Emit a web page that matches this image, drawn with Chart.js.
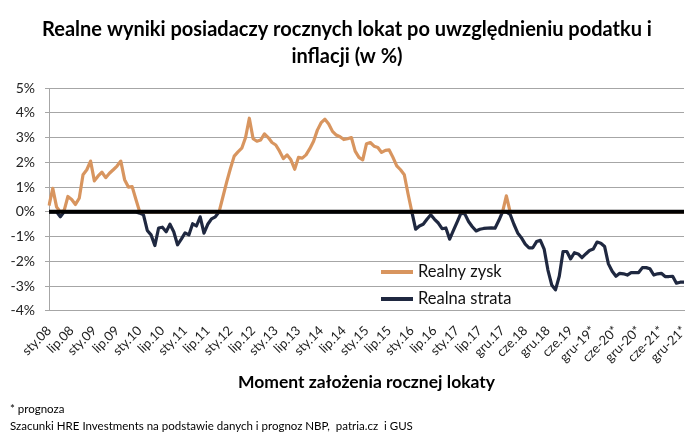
<!DOCTYPE html>
<html><head><meta charset="utf-8">
<script src="https://cdn.jsdelivr.net/npm/chart.js@4.4.0/dist/chart.umd.min.js"></script>
<style>html,body{margin:0;padding:0;background:#fff;}#wrap{width:700px;height:439px;position:relative;}</style>
</head><body><div id="wrap"><canvas id="c" width="700" height="439"></canvas></div>
<script>
const tickLabels = ['sty.08','lip.08','sty.09','lip.09','sty.10','lip.10','sty.11','lip.11','sty.12','lip.12','sty.13','lip.13','sty.14','lip.14','sty.15','lip.15','sty.16','lip.16','sty.17','lip.17','gru.17','cze.18','gru.18','cze.19','gru-19*','cze-20*','gru-20*','cze-21*','gru-21*'];
const seriesNames = ['Realny zysk', 'Realna strata'];
const zysk = [
 0.25,0.95,0.2,0,0.05,0.62,0.5,0.3,0.55,1.5,
 1.7,2.05,1.25,1.45,1.6,1.38,1.56,1.7,1.85,2.05,
 1.3,1.0,1.02,0.5,0,0,0,0,0,0,
 0,0,0,0,0,0,0,0,0,0,
 0,0,0,0,0,0,0.6,1.2,1.75,2.25,
 2.42,2.57,3.0,3.78,2.95,2.85,2.9,3.15,3.0,2.8,
 2.7,2.45,2.15,2.3,2.1,1.72,2.2,2.17,2.3,2.55,
 2.85,3.3,3.6,3.74,3.55,3.25,3.1,3.03,2.92,2.95,
 3.0,2.45,2.2,2.1,2.75,2.8,2.65,2.6,2.4,2.48,
 2.5,2.2,1.86,1.7,1.5,0.72,0,0,0,0,
 0,0,0,0,0,0,0,0,0,0,
 0,0,0,0,0,0,0,0,0,0,
 0,0.65,0,0,0,0,0,0,0,0,
 0,0,0,0,0,0,0,0,0,0,
 0,0,0,0,0,0,0,0,0,0,
 0,0,0,0,0,0,0,0,0,0,
 0,0,0,0,0,0,0,0,0
];
const strata = [
 0,0,0,-0.2,0,0,0,0,0,0,
 0,0,0,0,0,0,0,0,0,0,
 0,0,0,0,-0.05,-0.12,-0.75,-0.93,-1.36,-0.65,
 -0.62,-0.8,-0.5,-0.8,-1.33,-1.1,-0.85,-0.93,-0.48,-0.57,
 -0.2,-0.86,-0.5,-0.28,-0.2,0,0,0,0,0,
 0,0,0,0,0,0,0,0,0,0,
 0,0,0,0,0,0,0,0,0,0,
 0,0,0,0,0,0,0,0,0,0,
 0,0,0,0,0,0,0,0,0,0,
 0,0,0,0,0,0,0,-0.7,-0.57,-0.5,
 -0.3,-0.12,-0.3,-0.45,-0.68,-0.65,-1.1,-0.75,-0.4,-0.05,
 -0.08,-0.39,-0.6,-0.77,-0.7,-0.67,-0.66,-0.65,-0.66,-0.35,
 0,0,-0.1,-0.5,-0.85,-1.05,-1.3,-1.45,-1.45,-1.2,
 -1.15,-1.5,-2.35,-2.95,-3.15,-2.6,-1.6,-1.6,-1.9,-1.65,
 -1.7,-1.85,-1.7,-1.56,-1.5,-1.22,-1.27,-1.4,-2.1,-2.4,
 -2.6,-2.48,-2.5,-2.55,-2.45,-2.45,-2.45,-2.25,-2.25,-2.3,
 -2.55,-2.5,-2.48,-2.61,-2.61,-2.6,-2.88,-2.84,-2.84
];
const categories = zysk.map((_, i) => (i % 6 === 0 ? tickLabels[i / 6] : ''));

const ORANGE = '#D8955F';
const NAVY = '#1F2840';
const GRID = '#A6A6A6';
const FONT = 'Lato, "Open Sans", sans-serif';

const zeroLine = {
  id: 'zeroLine',
  afterDatasetsDraw(chart) {
    const {ctx, chartArea, scales} = chart;
    const y = scales.y.getPixelForValue(0);
    ctx.save();
    ctx.strokeStyle = '#000';
    ctx.lineWidth = 4;
    ctx.beginPath();
    ctx.moveTo(chartArea.left, y);
    ctx.lineTo(chartArea.right, y);
    ctx.stroke();
    ctx.restore();
  }
};

const innerLegend = {
  id: 'innerLegend',
  afterDraw(chart) {
    const {ctx} = chart;
    const x0 = 381, x1 = 413, ys = [272, 299];
    ctx.save();
    chart.data.datasets.forEach((ds, k) => {
      ctx.strokeStyle = ds.borderColor;
      ctx.lineWidth = 4;
      ctx.beginPath();
      ctx.moveTo(x0, ys[k]);
      ctx.lineTo(x1, ys[k]);
      ctx.stroke();
      ctx.fillStyle = '#111';
      ctx.font = '16.5px ' + FONT;
      ctx.textBaseline = 'middle';
      ctx.textAlign = 'left';
      ctx.fillText(ds.label, x1 + 5, ys[k]);
    });
    ctx.restore();
  }
};

new Chart(document.getElementById('c'), {
  type: 'line',
  data: {
    labels: categories,
    datasets: [
      {label: seriesNames[0], data: zysk, borderColor: ORANGE, backgroundColor: ORANGE, borderWidth: 3.2, pointRadius: 0, tension: 0, fill: false, borderJoinStyle: 'round'},
      {label: seriesNames[1], data: strata, borderColor: NAVY, backgroundColor: NAVY, borderWidth: 3.2, pointRadius: 0, tension: 0, fill: false, borderJoinStyle: 'round'}
    ]
  },
  options: {
    responsive: false,
    animation: false,
    devicePixelRatio: 1,
    layout: {padding: {left: 10, right: 16, top: 0, bottom: 0}},
    plugins: {
      legend: {display: false},
      tooltip: {enabled: false},
      title: {
        display: true,
        text: ['Realne wyniki posiadaczy rocznych lokat po uwzględnieniu podatku i', 'inflacji (w %)'],
        color: '#000',
        font: {family: FONT, size: 20, weight: 'bold', lineHeight: 1.35},
        padding: {top: 16.5, bottom: 17.5}
      },
      subtitle: {
        display: true,
        position: 'bottom',
        align: 'start',
        text: ['* prognoza', 'Szacunki HRE Investments na podstawie danych i prognoz NBP,  patria.cz  i GUS'],
        color: '#000',
        font: {family: FONT, size: 11.5, lineHeight: 1.48},
        padding: {top: 4, bottom: 4}
      }
    },
    scales: {
      x: {
        grid: {display: false},
        border: {display: true, color: GRID, width: 1},
        ticks: {autoSkip: false, maxRotation: 45, minRotation: 45, color: '#222', font: {family: FONT, size: 13}, padding: 4},
        title: {display: true, text: 'Moment założenia rocznej lokaty', color: '#000', font: {family: FONT, size: 17.5, weight: 'bold'}, padding: {top: 0, bottom: 4}},
        afterFit: s => { s.height = 86; }
      },
      y: {
        min: -4, max: 5,
        ticks: {stepSize: 1, callback: v => v + '%', color: '#222', font: {family: FONT, size: 14}, padding: 10},
        grid: {color: GRID, lineWidth: 1, tickLength: 4, drawTicks: true},
        border: {display: true, color: GRID, width: 1},
        afterFit: s => { s.width = 39; }
      }
    }
  },
  plugins: [zeroLine, innerLegend]
});
</script>
</body></html>
